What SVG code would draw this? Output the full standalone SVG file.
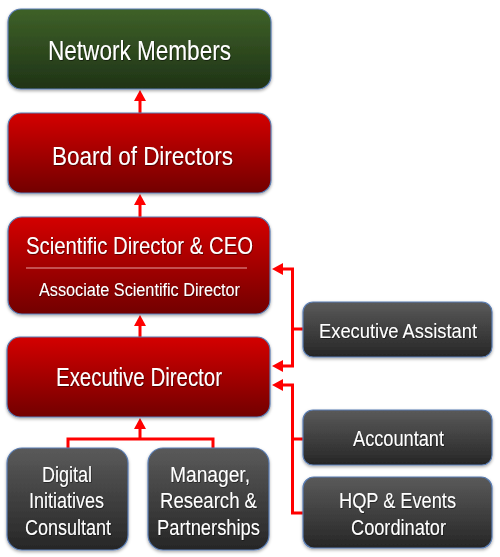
<svg xmlns="http://www.w3.org/2000/svg" width="500" height="557" viewBox="0 0 500 557">
<style>
.box{stroke:#5a7db3;stroke-width:1.2}
.t{font-family:"Liberation Sans",Arial,sans-serif;fill:#fff;text-anchor:middle;filter:url(#ts)}
.c{stroke:#ff0000;stroke-width:3;fill:none}
.ah{fill:#ff0000}
</style>
<defs>
<linearGradient id="gGreen" x1="0" y1="0" x2="0" y2="1">
<stop offset="0" stop-color="#3e6128"/><stop offset="1" stop-color="#1f3316"/>
</linearGradient>
<linearGradient id="gRed" x1="0" y1="0" x2="0" y2="1">
<stop offset="0" stop-color="#d40000"/><stop offset="1" stop-color="#720000"/>
</linearGradient>
<linearGradient id="gGray" x1="0" y1="0" x2="0" y2="1">
<stop offset="0" stop-color="#5a5a5a"/><stop offset="1" stop-color="#262626"/>
</linearGradient>
<filter id="sh" x="-10%" y="-10%" width="120%" height="130%">
<feDropShadow dx="0" dy="1.5" stdDeviation="1.5" flood-color="#000" flood-opacity="0.35"/>
</filter>
<filter id="ts" x="-20%" y="-50%" width="140%" height="200%">
<feDropShadow dx="0.6" dy="0.8" stdDeviation="0.6" flood-color="#000" flood-opacity="0.6"/>
</filter>
</defs>
<rect width="500" height="557" fill="#fff"/>

<g id="connectors">
<line class="c" x1="140" y1="113" x2="140" y2="100"/>
<polygon class="ah" points="140,90 146,101 134,101"/>
<line class="c" x1="140" y1="217" x2="140" y2="204"/>
<polygon class="ah" points="140,194 146,205 134,205"/>
<line class="c" x1="140" y1="337" x2="140" y2="325"/>
<polygon class="ah" points="140,315 146,326 134,326"/>
<polyline class="c" points="68,448 68,439 213,439 213,448"/>
<line class="c" x1="140" y1="439" x2="140" y2="428"/>
<polygon class="ah" points="140,418 146,429 134,429"/>
<polyline class="c" points="282,269 292.5,269 292.5,366 282,366"/>
<line class="c" x1="292.5" y1="329" x2="303" y2="329"/>
<polygon class="ah" points="272,269 283,263 283,275"/>
<polygon class="ah" points="272,366 283,360 283,372"/>
<polyline class="c" points="282,385 292.5,385 292.5,513 303,513"/>
<line class="c" x1="292.5" y1="439" x2="303" y2="439"/>
<polygon class="ah" points="272,385 283,379 283,391"/>
</g>

<g id="network-members">
<rect class="box" x="8" y="9" width="263" height="80" rx="13" fill="url(#gGreen)" filter="url(#sh)"/>
<text class="t" x="139.5" y="60" font-size="28" textLength="183" lengthAdjust="spacingAndGlyphs">Network Members</text>
</g>
<g id="board-of-directors">
<rect class="box" x="8" y="113" width="263" height="80" rx="13" fill="url(#gRed)" filter="url(#sh)"/>
<text class="t" x="142.5" y="165" font-size="26.5" textLength="181" lengthAdjust="spacingAndGlyphs">Board of Directors</text>
</g>
<g id="scientific-director">
<rect class="box" x="8" y="217" width="262" height="97" rx="14" fill="url(#gRed)" filter="url(#sh)"/>
<text class="t" x="139.5" y="254" font-size="24" textLength="227" lengthAdjust="spacingAndGlyphs">Scientific Director &amp; CEO</text>
<line x1="26" y1="268" x2="247" y2="268" stroke="#e8a0a0" stroke-width="1.2"/>
<text class="t" x="139.5" y="296" font-size="18" textLength="201" lengthAdjust="spacingAndGlyphs">Associate Scientific Director</text>
</g>
<g id="executive-director">
<rect class="box" x="7" y="337" width="263" height="80" rx="13" fill="url(#gRed)" filter="url(#sh)"/>
<text class="t" x="139" y="386" font-size="25.5" textLength="166" lengthAdjust="spacingAndGlyphs">Executive Director</text>
</g>
<g id="executive-assistant">
<rect class="box" x="303" y="302" width="189" height="55" rx="10" fill="url(#gGray)" filter="url(#sh)"/>
<text class="t" x="398" y="338" font-size="21" textLength="158" lengthAdjust="spacingAndGlyphs">Executive Assistant</text>
</g>
<g id="accountant">
<rect class="box" x="303" y="410" width="189" height="55" rx="10" fill="url(#gGray)" filter="url(#sh)"/>
<text class="t" x="398.5" y="446" font-size="22" textLength="91" lengthAdjust="spacingAndGlyphs">Accountant</text>
</g>
<g id="hqp-events-coordinator">
<rect class="box" x="303" y="477" width="189" height="71" rx="11" fill="url(#gGray)" filter="url(#sh)"/>
<text class="t" x="397.5" y="508" font-size="22" textLength="117" lengthAdjust="spacingAndGlyphs">HQP &amp; Events</text>
<text class="t" x="398.5" y="535" font-size="22" textLength="95" lengthAdjust="spacingAndGlyphs">Coordinator</text>
</g>
<g id="digital-initiatives-consultant">
<rect class="box" x="7" y="448" width="121" height="102" rx="15" fill="url(#gGray)" filter="url(#sh)"/>
<text class="t" x="67" y="482" font-size="22" textLength="50" lengthAdjust="spacingAndGlyphs">Digital</text>
<text class="t" x="66.5" y="508" font-size="22" textLength="75" lengthAdjust="spacingAndGlyphs">Initiatives</text>
<text class="t" x="68" y="535" font-size="22" textLength="86" lengthAdjust="spacingAndGlyphs">Consultant</text>
</g>
<g id="manager-research-partnerships">
<rect class="box" x="148" y="448" width="121" height="102" rx="15" fill="url(#gGray)" filter="url(#sh)"/>
<text class="t" x="210" y="482" font-size="22" textLength="80" lengthAdjust="spacingAndGlyphs">Manager,</text>
<text class="t" x="208.5" y="508" font-size="22" textLength="97" lengthAdjust="spacingAndGlyphs">Research &amp;</text>
<text class="t" x="208.5" y="535" font-size="22" textLength="103" lengthAdjust="spacingAndGlyphs">Partnerships</text>
</g>
</svg>
